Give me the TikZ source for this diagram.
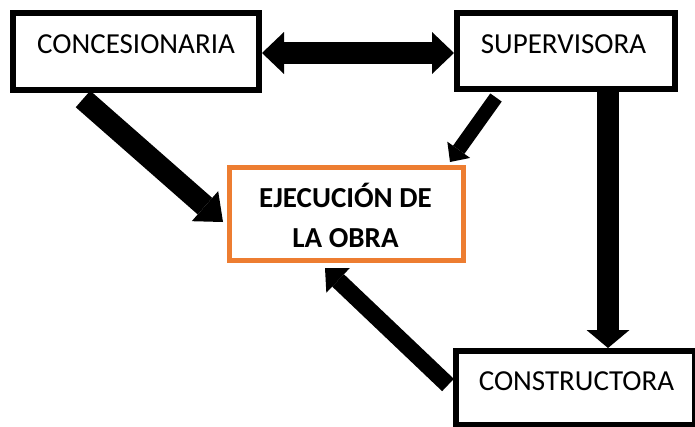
\documentclass[tikz,border=0pt]{standalone}
\usepackage{fontspec}
\setmainfont{Carlito}
\usetikzlibrary{arrows.meta,calc}
\definecolor{orangeW}{HTML}{ED7D31}
\begin{document}
\begin{tikzpicture}[x=1pt,y=-1pt,
  box/.style={draw=black, line width=6pt, inner sep=0pt, outer sep=0pt},
  obox/.style={draw=orangeW, line width=5pt, inner sep=0pt, outer sep=0pt},
  txt/.style={font=\fontsize{29}{35}\selectfont, anchor=base, inner sep=0pt},
  btxt/.style={txt, font=\fontsize{29}{35}\selectfont\bfseries},
  fat/.style n args={3}{line width=#1, -{Triangle[length=#2,width=#3,line width=0pt]}},
  fatboth/.style n args={3}{line width=#1, {Triangle[length=#2,width=#3,line width=0pt]}-{Triangle[length=#2,width=#3,line width=0pt]}}
]
\useasboundingbox (0,0) rectangle (695,426);
\fill[white] (0,0) rectangle (695,426);

\node[box, minimum width=246pt, minimum height=77pt] (conc) at (136,51.5) {};
\node[box, minimum width=218pt, minimum height=76pt] (sup) at (566,51) {};
\node[obox, minimum width=234pt, minimum height=93pt] (exe) at (346.3,214) {};
\node[box, minimum width=239pt, minimum height=74pt] (cons) at (575.5,388) {};

\node[txt] (tconc) at (136,53) {CONCESIONARIA};
\node[txt] (tsup) at (563.5,53) {SUPERVISORA};
\node[txt] (tcons) at (576.5,390) {CONSTRUCTORA};
\node[btxt] (texeA) at (345.5,207) {EJECUCIÓN DE};
\node[btxt] (texeB) at (345.5,247) {LA OBRA};

% double arrow
\draw[fatboth={22pt}{22pt}{42pt}] ($(conc.east)+(3,1.5)$) -- ($(sup.west)+(-3,2)$);
% concesionaria -> ejecucion
\draw[fat={22pt}{24pt}{40pt}] ($(conc.south)+(-53,9)$) -- ($(exe.west)+(-6.3,8)$);
% supervisora -> ejecucion
\draw[fat={14pt}{15pt}{28pt}] ($(sup.south)+(-70,8.5)$) -- ($(exe.north east)+(-13.3,-5.5)$);
% supervisora -> constructora
\draw[fat={22pt}{18pt}{43pt}] ($(sup.south)+(42,3)$) -- ($(cons.north)+(32.5,-3)$);
% constructora -> ejecucion
\draw[fat={17pt}{18pt}{34pt}] ($(cons.west)+(-8,-3)$) -- ($(exe.south)+(-21.3,7.5)$);
\end{tikzpicture}
\end{document}
